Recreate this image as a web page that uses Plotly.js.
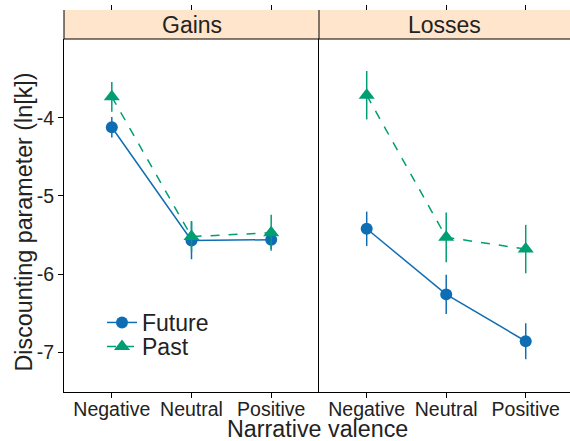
<!DOCTYPE html>
<html>
<head>
<meta charset="utf-8">
<script src="https://cdn.plot.ly/plotly-3.0.1.min.js"></script>
<style>html,body{margin:0;padding:0;background:#fff;}#chart{width:570px;height:441px;}</style>
</head>
<body>
<div id="chart"></div>
<script>
// ---- data ----
var categories = ["Negative", "Neutral", "Positive"];
var panels = ["Gains", "Losses"];
var series = ["Future", "Past"];

var gainsFuture = [-4.12, -5.57, -5.56];
var gainsFutureErr = [0.13, 0.24, 0.12];
var gainsPast = [-3.73, -5.52, -5.47];
var gainsPastErr = [0.19, 0.20, 0.23];

var lossesFuture = [-5.42, -6.26, -6.86];
var lossesFutureErr = [0.22, 0.25, 0.23];
var lossesPast = [-3.71, -5.53, -5.68];
var lossesPastErr = [0.31, 0.32, 0.31];

var yTicks = [-7, -6, -5, -4];
var yTickText = ["-7", "-6", "-5", "-4"];

// ---- styling ----
var blue = "#0f6eb3", green = "#009E73";
var FONT = "Liberation Sans, Arial, sans-serif";
var TXT = "#222";
var xIdx = categories.map(function (c, i) { return i; });

function tr(y, err, name, color, dash, symbol, size, xa, ya, showleg, leg) {
  return {
    type: "scatter", mode: "lines+markers", name: name,
    x: xIdx, y: y, xaxis: xa, yaxis: ya, showlegend: showleg, legend: leg,
    line: {color: color, width: 1.5, dash: dash},
    marker: {color: color, symbol: symbol, size: size},
    error_y: {type: "data", array: err, visible: true, color: color, thickness: 1.5, width: 0}
  };
}
function dummy(xa, ya) {
  return {type: "scatter", x: [null], y: [null], xaxis: xa, yaxis: ya, showlegend: false, hoverinfo: "skip"};
}

var data = [
  tr(gainsFuture, gainsFutureErr, series[0], blue, "solid", "circle", 12, "x", "y", true, "legend"),
  tr(gainsPast, gainsPastErr, series[1], green, "dash", "triangle-up", 14, "x", "y", true, "legend2"),
  tr(lossesFuture, lossesFutureErr, series[0], blue, "solid", "circle", 12, "x2", "y2", false, "legend"),
  tr(lossesPast, lossesPastErr, series[1], green, "dash", "triangle-up", 14, "x2", "y2", false, "legend2"),
  dummy("x3", "y"), dummy("x4", "y2"), dummy("x5", "y"), dummy("x6", "y2")
];

var W = 570, H = 441;
var mL = 64, mR = 0, mT = 10, mB = 49;
var plotTopPx = 39;
var paperH = H - mT - mB;
var paperW = W - mL - mR;
var yTop = (H - mB - plotTopPx) / paperH;
var split = (319 - mL) / paperW;
var rG = [-0.6, 2.6], rL = [-0.6, 2.557];

var xCommon = {
  tickvals: xIdx, ticktext: categories, ticks: "", showline: true, linecolor: "#000", linewidth: 1,
  showgrid: false, zeroline: false, fixedrange: true,
  tickfont: {family: FONT, size: 19.5, color: TXT}
};
function xa(extra) { return Object.assign({}, xCommon, extra); }
function tickAx(over, side, pos, range) {
  return xa({overlaying: over, anchor: "free", position: pos, side: side, range: range,
             showticklabels: false, showline: false, ticks: "outside", ticklen: 5, tickwidth: 1, tickcolor: "#000"});
}
function legPx(topPx) { return 1 - (topPx - mT) / paperH; }

var legCommon = {xanchor: "left", yanchor: "top", bgcolor: "rgba(0,0,0,0)",
                 font: {family: FONT, size: 23, color: TXT}, itemwidth: 30};

var layout = {
  width: W, height: H,
  margin: {l: mL, r: mR, t: mT, b: mB},
  paper_bgcolor: "#fff", plot_bgcolor: "#fff",
  font: {family: FONT, color: TXT},
  showlegend: true,
  legend: Object.assign({x: (102 - mL) / paperW, y: legPx(301)}, legCommon),
  legend2: Object.assign({x: (102 - mL) / paperW, y: legPx(325)}, legCommon),
  xaxis: xa({domain: [0, split], anchor: "y", range: rG}),
  xaxis2: xa({domain: [split, 1], anchor: "y2", range: rL}),
  xaxis3: tickAx("x", "top", 1, rG),
  xaxis4: tickAx("x2", "top", 1, rL),
  xaxis5: tickAx("x", "bottom", 0, rG),
  xaxis6: tickAx("x2", "bottom", 0, rL),
  yaxis: {domain: [0, yTop], anchor: "x", range: [-7.51, -2.99], tickvals: yTicks, ticktext: yTickText,
          ticks: "outside", ticklen: 5, tickcolor: "#000", showline: true, linecolor: "#000",
          linewidth: 1, showgrid: false, zeroline: false, fixedrange: true,
          tickfont: {family: FONT, size: 19.5, color: TXT}},
  yaxis2: {domain: [0, yTop], anchor: "x2", matches: "y", range: [-7.51, -2.99],
           showticklabels: false, ticks: "", showline: true, linecolor: "#000", linewidth: 1,
           showgrid: false, zeroline: false, fixedrange: true},
  shapes: [
    {type: "rect", xref: "paper", yref: "paper", x0: 0, x1: 1, y0: yTop, y1: 1,
     fillcolor: "#FFE5CC", line: {width: 0}, layer: "below"},
    {type: "line", xref: "paper", yref: "paper", x0: 0, x1: 1, y0: yTop, y1: yTop, line: {color: "#000", width: 1}},
    {type: "line", xref: "paper", yref: "paper", x0: 0, x1: 0, y0: yTop, y1: 1, line: {color: "#000", width: 1}},
    {type: "line", xref: "paper", yref: "paper", x0: split, x1: split, y0: yTop, y1: 1, line: {color: "#000", width: 1}}
  ],
  annotations: [
    {text: panels[0], xref: "paper", yref: "paper", x: split / 2, y: (1 + yTop) / 2,
     xanchor: "center", yanchor: "middle", showarrow: false, font: {family: FONT, size: 23, color: TXT}},
    {text: panels[1], xref: "paper", yref: "paper", x: split + (1 - split) / 2, y: (1 + yTop) / 2,
     xanchor: "center", yanchor: "middle", showarrow: false, font: {family: FONT, size: 23, color: TXT}},
    {text: "Narrative valence", xref: "paper", yref: "paper", x: 0.5, y: 0, yshift: -37,
     xanchor: "center", yanchor: "middle", showarrow: false, font: {family: FONT, size: 23.3, color: TXT}},
    {text: "Discounting parameter (ln[k])", xref: "paper", yref: "paper", x: 0, xshift: -41,
     y: yTop / 2, yshift: -7, textangle: -90, xanchor: "center", yanchor: "middle", showarrow: false,
     font: {family: FONT, size: 23.3, color: TXT}}
  ]
};

Plotly.newPlot("chart", data, layout, {staticPlot: true, displayModeBar: false});
</script>
</body>
</html>
